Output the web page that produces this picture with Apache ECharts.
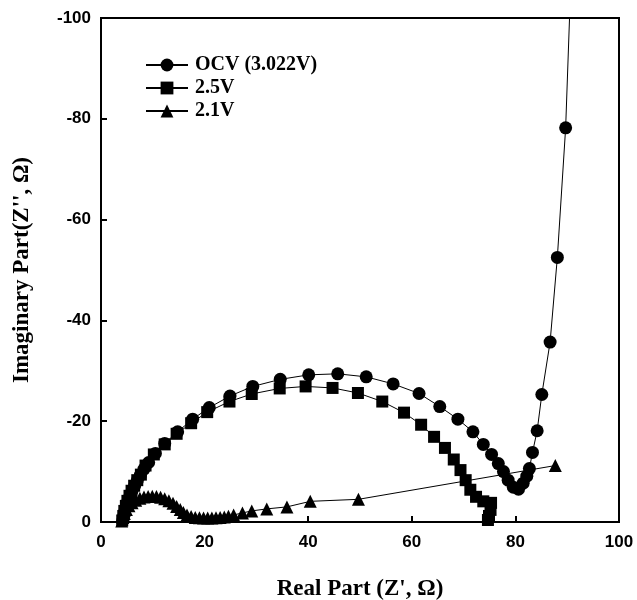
<!DOCTYPE html>
<html>
<head>
<meta charset="utf-8">
<script src="https://cdn.jsdelivr.net/npm/echarts@6/dist/echarts.min.js"></script>
<style>
  html, body { margin: 0; padding: 0; background: #fff; }
  #main { width: 637px; height: 600px; }
</style>
</head>
<body>
<div id="main"></div>
<script>
// Nyquist plot, Z'' stored as negative values
let seriesNames = ["OCV (3.022V)", "2.5V", "2.1V"]
let xTicks = [0, 20, 40, 60, 80, 100]
let yTicks = [-100, -80, -60, -40, -20, 0]

let ocvRe = [4.2,4.4,4.6,4.9,5.2,5.6,6.0,6.5,7.0,7.6,8.3,9.2,10.5,12.3,14.8,17.7,20.9,24.9,29.3,34.6,40.1,45.7,51.2,56.4,61.4,65.4,68.9,71.8,73.8,75.4,76.7,77.7,78.6,79.6,80.6,81.5,82.2,82.7,83.3,84.2,85.1,86.7,88.1,89.7,91.0]
let ocvIm = [-0.3,-1.2,-2.2,-3.2,-4.2,-5.2,-6.2,-7.2,-8.2,-9.3,-10.5,-11.8,-13.6,-15.6,-17.9,-20.4,-22.7,-25.0,-26.9,-28.3,-29.2,-29.4,-28.8,-27.4,-25.5,-22.9,-20.4,-17.9,-15.4,-13.4,-11.6,-10.0,-8.3,-6.9,-6.5,-7.7,-9.1,-10.6,-13.8,-18.1,-25.3,-35.7,-52.5,-78.2,-116]

let v25Re = [4.1,4.3,4.5,4.8,5.1,5.5,5.9,6.4,7.0,7.7,8.6,10.2,12.3,14.6,17.4,20.5,24.8,29.1,34.5,39.5,44.7,49.6,54.3,58.5,61.8,64.3,66.4,68.1,69.4,70.4,71.3,72.4,73.8,75.3,75.2,74.9,74.7]
let v25Im = [-0.3,-1.2,-2.2,-3.2,-4.2,-5.2,-6.2,-7.2,-8.3,-9.4,-11.2,-13.4,-15.4,-17.5,-19.6,-21.8,-23.9,-25.4,-26.5,-26.9,-26.6,-25.6,-23.9,-21.7,-19.3,-16.9,-14.7,-12.4,-10.3,-8.3,-6.4,-5.0,-4.1,-3.8,-2.4,-1.2,-0.4]

let v21Re = [4.0,4.2,4.5,4.9,5.4,6.0,6.7,7.5,8.3,9.1,9.9,10.7,11.5,12.3,13.1,13.9,14.6,15.3,15.9,16.6,17.4,18.2,19.0,19.8,20.6,21.4,22.2,23.0,23.8,24.6,25.6,27.3,29.1,32.0,35.9,40.4,49.7,87.7]
let v21Im = [-0.2,-0.9,-1.7,-2.5,-3.2,-3.8,-4.3,-4.7,-4.95,-5.05,-5.1,-5.05,-4.9,-4.6,-4.2,-3.7,-3.1,-2.5,-1.9,-1.4,-1.1,-0.9,-0.85,-0.8,-0.8,-0.8,-0.85,-0.9,-1.0,-1.15,-1.4,-1.8,-2.2,-2.6,-3.0,-4.1,-4.5,-11.2]

function pairs(xs, ys) {
    return xs.map((x, i) => [x, ys[i]])
}

var myChart = echarts.init(document.getElementById('main'))

var tickFont = {
    color: '#000',
    fontFamily: '"Liberation Sans", Arial, sans-serif',
    fontWeight: 'bold',
    fontSize: 17
}
var titleFont = {
    color: '#000',
    fontFamily: '"Liberation Serif", "Times New Roman", serif',
    fontWeight: 'bold',
    fontSize: 23
}

function mkSeries(name, data, symbol, size) {
    return {
        name: name,
        type: 'line',
        data: data,
        symbol: symbol,
        symbolSize: size,
        showAllSymbol: true,
        clip: true,
        animation: false,
        lineStyle: { color: '#000', width: 1 },
        itemStyle: { color: '#000' }
    }
}

var option = {
    animation: false,
    grid: {
        left: 101, right: 18, top: 18, bottom: 78,
        outerBoundsMode: 'none',
        containLabel: false,
        show: true, borderColor: '#000', borderWidth: 2
    },
    legend: {
        orient: 'vertical',
        left: 140,
        top: 50,
        itemWidth: 42,
        itemHeight: 16,
        itemGap: 3,
        data: seriesNames,
        textStyle: {
            color: '#000',
            fontFamily: '"Liberation Serif", "Times New Roman", serif',
            fontWeight: 'bold',
            fontSize: 20,
            padding: [0, 0, 0, 2]
        }
    },
    xAxis: {
        type: 'value',
        min: xTicks[0],
        max: xTicks[xTicks.length - 1],
        interval: 20,
        name: "Real Part (Z', Ω)",
        nameLocation: 'middle',
        nameGap: 56,
        nameTextStyle: titleFont,
        axisLine: { show: true, lineStyle: { color: '#000', width: 2 } },
        axisTick: { show: true, inside: true, length: 6, lineStyle: { color: '#000', width: 2 } },
        axisLabel: Object.assign({ margin: 12 }, tickFont),
        splitLine: { show: false }
    },
    yAxis: {
        type: 'value',
        min: yTicks[0],
        max: yTicks[yTicks.length - 1],
        interval: 20,
        inverse: true,
        name: "Imaginary Part(Z'', Ω)",
        nameLocation: 'middle',
        nameGap: 67,
        nameTextStyle: titleFont,
        axisLine: { show: true, lineStyle: { color: '#000', width: 2 } },
        axisTick: { show: true, inside: true, length: 6, lineStyle: { color: '#000', width: 2 } },
        axisLabel: Object.assign({ margin: 10 }, tickFont),
        splitLine: { show: false }
    },
    series: [
        mkSeries(seriesNames[0], pairs(ocvRe, ocvIm), 'circle', 13),
        mkSeries(seriesNames[1], pairs(v25Re, v25Im), 'rect', 12),
        mkSeries(seriesNames[2], pairs(v21Re, v21Im), 'triangle', 13)
    ]
}
myChart.setOption(option)
</script>
</body>
</html>
